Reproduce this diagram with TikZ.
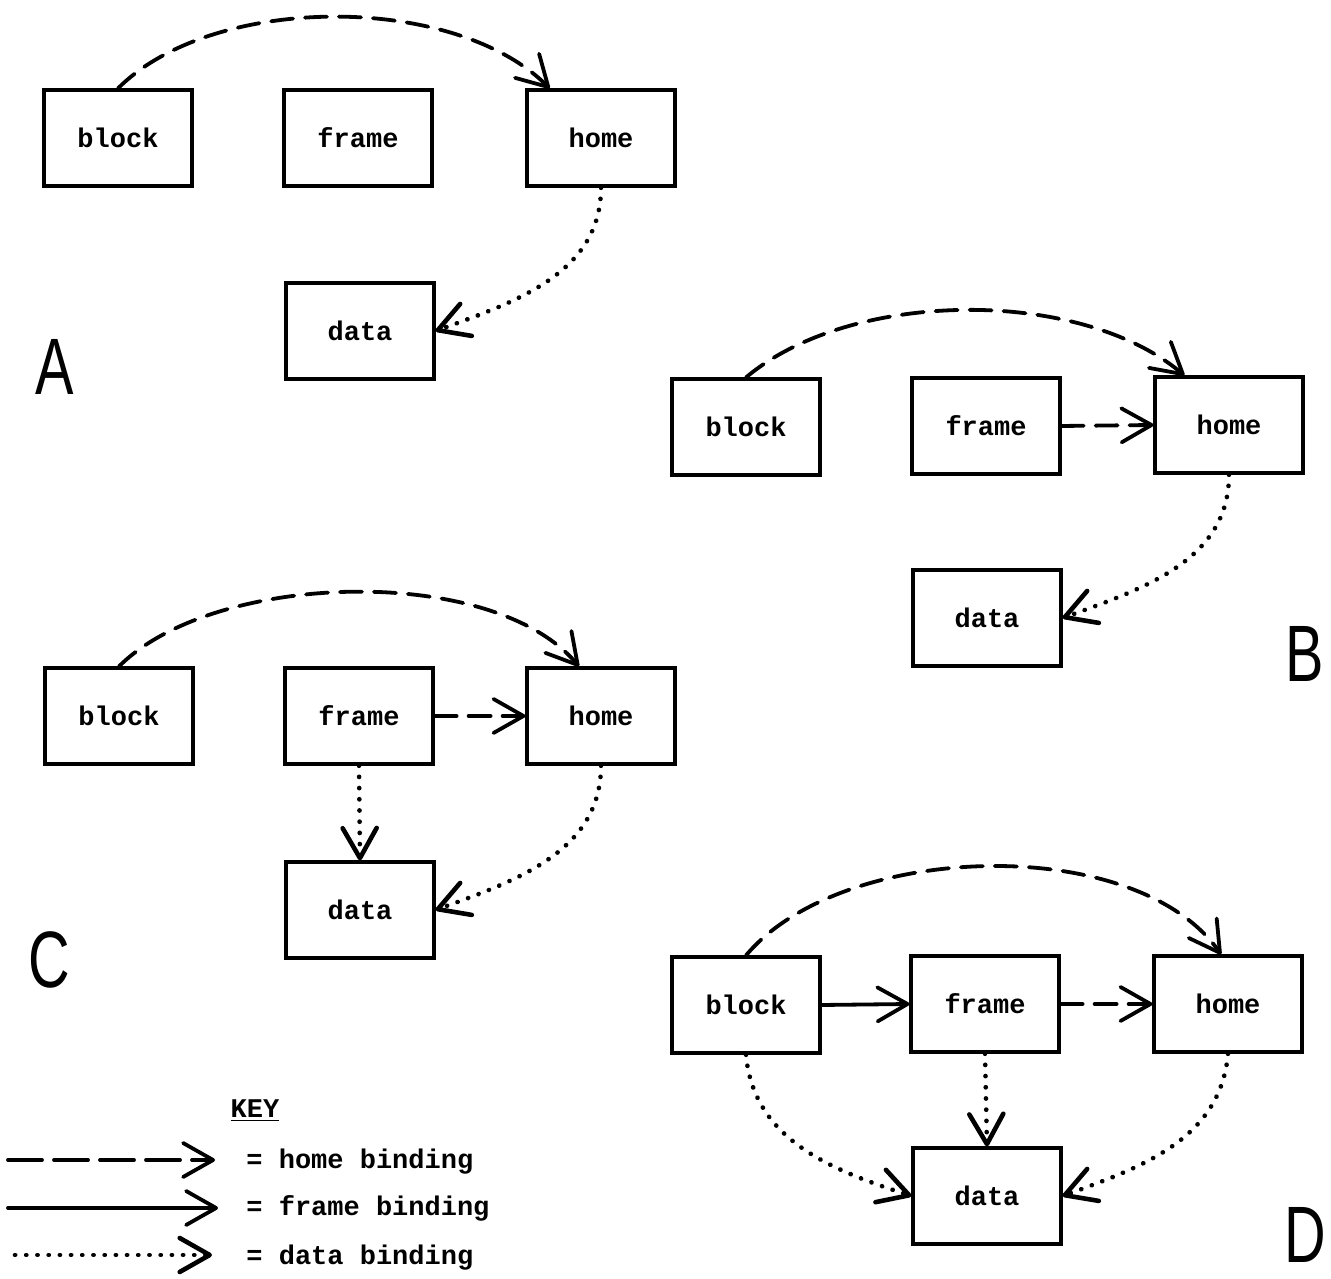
\documentclass[tikz,border=0pt]{standalone}
\usepackage{fontspec}
\setmainfont{Liberation Serif}
\setmonofont{Liberation Mono}
\setsansfont{Liberation Sans}
\usepackage{tikz}
\usetikzlibrary{arrows.meta}
\usetikzlibrary{positioning}
\colorlet{background}{white}
\colorlet{penColor}{black}
\newcommand{\panelname}[1]{\scalebox{0.72}[1]{#1}}
\tikzset{>={Straight Barb[length=15pt,width=17pt,round]},
  box/.style={draw=penColor,line width=1.6pt,minimum width=74pt,minimum height=48pt,
    inner sep=0pt,font=\ttfamily\bfseries\fontsize{13.5}{15}\selectfont},
  keytext/.style={anchor=base west,inner sep=0pt,
    font=\ttfamily\bfseries\fontsize{13.5}{15}\selectfont},
  panel/.style={anchor=base,inner sep=0pt,font=\sffamily\fontsize{40}{42}\selectfont},
  homebind/.style={penColor,->,line width=1.9pt,line cap=round,dash pattern=on 11pt off 6pt},
  framebind/.style={penColor,->,line width=1.9pt,line cap=round},
  databind/.style={penColor,->,line width=2.3pt,line cap=round,dash pattern=on 0.1pt off 5.5pt}}

\begin{document}
\begin{tikzpicture}[x=0.5pt,y=0.5pt]
    \useasboundingbox[fill=background] (0,0) rectangle (1331,1278);

    % A
    \node[box] (blockA) at (118,1140) {block};
    \node[box] (frameA) at (358,1140) {frame};
    \node[box] (homeA) at (601,1140) {home};
    \node[box] (dataA) at (360,947) {data};
    \node[panel] (labelA) at (55,883) {\panelname{A}};
    \draw[homebind] (blockA.north) to[out=45,in=135,looseness=0.8] (homeA.136);
    \draw[databind] (homeA.south) to[out=-90,in=20] (dataA.east);

    % B
    \node[box] (blockB) at (746,851) {block};
    \node[box] (frameB) at (986,852) {frame};
    \node[box] (homeB) at (1229,853) {home};
    \node[box] (dataB) at (987,660) {data};
    \node[panel] (labelB) at (1305,596) {\panelname{B}};
    \draw[homebind] (blockB.north) to[out=40,in=140,looseness=0.8] (homeB.132);
    \draw[homebind] (frameB.east) -- (homeB.west);
    \draw[databind] (homeB.south) to[out=-90,in=20] (dataB.east);

    % C
    \node[box] (blockC) at (119,562) {block};
    \node[box] (frameC) at (359,562) {frame};
    \node[box] (homeC) at (601,562) {home};
    \node[box] (dataC) at (360,368) {data};
    \node[panel] (labelC) at (49,290) {\panelname{C}};
    \draw[homebind] (blockC.north) to[out=45,in=130,looseness=0.75] (homeC.114);
    \draw[homebind] (frameC.east) -- (homeC.west);
    \draw[databind] (frameC.south) -- (dataC.north);
    \draw[databind] (homeC.south) to[out=-90,in=20] (dataC.east);

    % D
    \node[box] (blockD) at (746,273) {block};
    \node[box] (frameD) at (985,274) {frame};
    \node[box] (homeD) at (1228,274) {home};
    \node[box] (dataD) at (987,82) {data};
    \node[panel] (labelD) at (1305,16) {\panelname{D}};
    \draw[homebind] (blockD.north) to[out=50,in=125,looseness=0.8] (homeD.98);
    \draw[framebind] (blockD.east) -- (frameD.west);
    \draw[homebind] (frameD.east) -- (homeD.west);
    \draw[databind] (frameD.south) -- (dataD.north);
    \draw[databind] (blockD.south) to[out=-85,in=162] (dataD.west);
    \draw[databind] (homeD.south) to[out=-95,in=20] (dataD.east);

    % key
    \node[keytext,anchor=base] (keyTitle) at (255,160) {\underline{KEY}};
    \coordinate (homeKeyL) at (8,118);
    \coordinate (homeKeyR) at (215,118);
    \coordinate (frameKeyL) at (8,70);
    \coordinate (frameKeyR) at (218,70);
    \coordinate (dataKeyL) at (15,23);
    \coordinate (dataKeyR) at (212,23);
    \draw[homebind,dash pattern=on 17pt off 6pt] (homeKeyL) -- (homeKeyR);
    \draw[framebind] (frameKeyL) -- (frameKeyR);
    \draw[databind] (dataKeyL) -- (dataKeyR);
    \node[keytext] (homeKey) at (246,110) {= home binding};
    \node[keytext] (frameKey) at (246,62) {= frame binding};
    \node[keytext] (dataKey) at (246,14) {= data binding};
  \end{tikzpicture}
\end{document}
